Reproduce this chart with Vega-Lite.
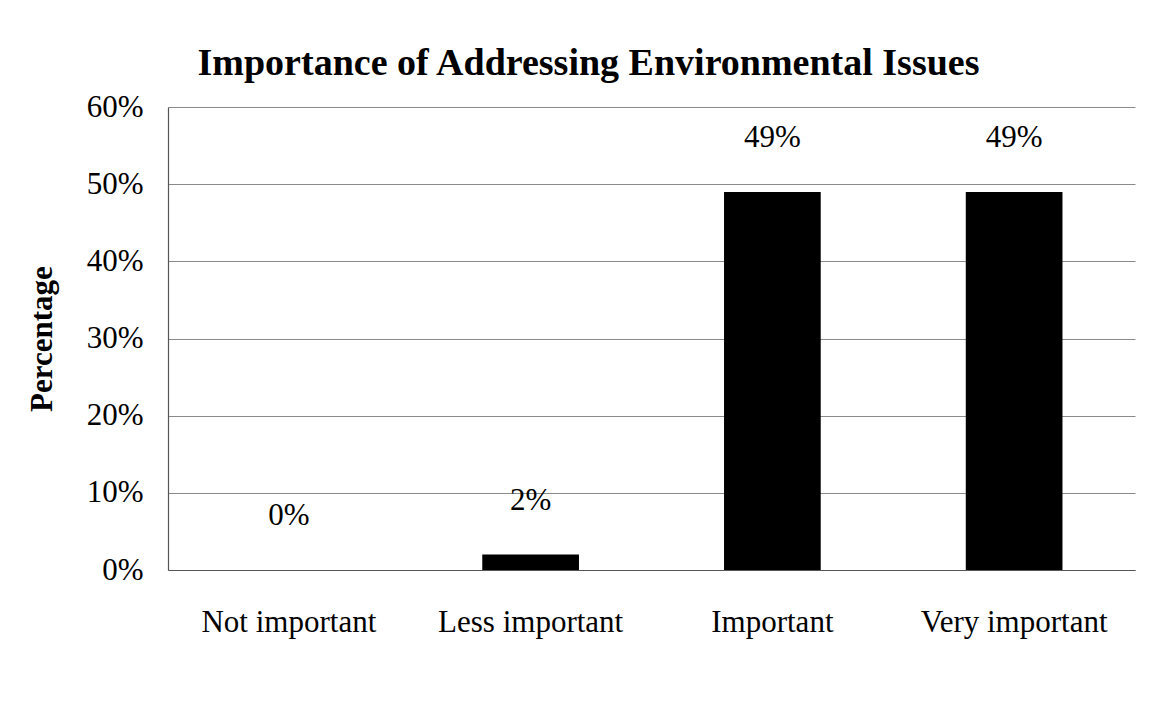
{
  "$schema": "https://vega.github.io/schema/vega-lite/v6.json",
  "autosize": {"type": "none"},
  "width": 967,
  "height": 463,
  "padding": {"left": 168, "top": 107, "right": 24, "bottom": 152},
  "background": "white",
  "title": {
    "text": "Importance of Addressing Environmental Issues",
    "font": "Liberation Serif",
    "fontSize": 38,
    "fontWeight": "bold",
    "color": "black",
    "anchor": "middle",
    "baseline": "alphabetic",
    "offset": 35,
    "dx": -63,
    "dy": 57
  },
  "data": {
    "values": [
      {"level": "Not important", "share": 0.0},
      {"level": "Less important", "share": 0.02},
      {"level": "Important", "share": 0.49},
      {"level": "Very important", "share": 0.49}
    ]
  },
  "encoding": {
    "x": {
      "field": "level",
      "type": "nominal",
      "sort": null,
      "scale": {"paddingInner": 0.6, "paddingOuter": 0.3},
      "axis": {
        "title": null,
        "labelAngle": 0,
        "labelLimit": 0,
        "ticks": false,
        "tickSize": 0,
        "labelPadding": 37,
        "labelFont": "Liberation Serif",
        "labelFontSize": 31,
        "labelColor": "black",
        "domainColor": "#555555",
        "domainWidth": 1.2
      }
    },
    "y": {
      "field": "share",
      "type": "quantitative",
      "scale": {"domain": [0, 0.6], "nice": false},
      "axis": {
        "title": "Percentage",
        "titleFont": "Liberation Serif",
        "titleFontSize": 31,
        "titleFontWeight": "bold",
        "titleColor": "black",
        "titlePadding": 28,
        "format": ".0%",
        "values": [0, 0.1, 0.2, 0.3, 0.4, 0.5, 0.6],
        "labelFont": "Liberation Serif",
        "labelFontSize": 31,
        "labelColor": "black",
        "labelPadding": 25,
        "ticks": false,
        "tickSize": 0,
        "grid": true,
        "gridColor": "#8a8a8a",
        "gridWidth": 1,
        "domainColor": "#555555",
        "domainWidth": 1.2
      }
    }
  },
  "layer": [
    {"mark": {"type": "bar", "color": "black"}},
    {
      "mark": {
        "type": "text",
        "font": "Liberation Serif",
        "fontSize": 31,
        "color": "black",
        "baseline": "alphabetic",
        "dy": -45
      },
      "encoding": {"text": {"field": "share", "type": "quantitative", "format": ".0%"}}
    }
  ],
  "config": {"view": {"stroke": null}}
}
